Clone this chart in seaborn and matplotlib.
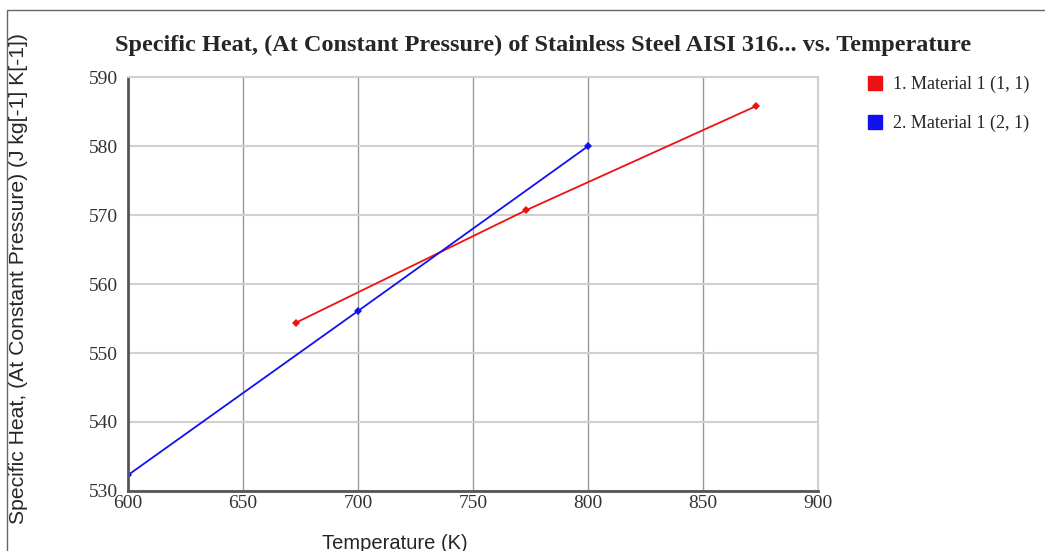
import numpy as np
import pandas as pd
import matplotlib
matplotlib.use("Agg")
import matplotlib.pyplot as plt
import seaborn as sns
from matplotlib.patches import Rectangle
from matplotlib.lines import Line2D

# ── data ──────────────────────────────────────────────────────────────────────
series_names = ["1. Material 1 (1, 1)", "2. Material 1 (2, 1)"]
temp_m1 = [673, 773, 873]
cp_m1   = [554.4, 570.7, 585.8]
temp_m2 = [600, 700, 800]
cp_m2   = [532.3, 556.1, 580.0]
colors  = ["#ee1111", "#1111ee"]

df = pd.concat([
    pd.DataFrame({"T": temp_m1, "cp": cp_m1, "series": series_names[0]}),
    pd.DataFrame({"T": temp_m2, "cp": cp_m2, "series": series_names[1]}),
])

sns.set_style("white")
serif = ["Liberation Serif", "DejaVu Serif"]
sans = ["Liberation Sans", "DejaVu Sans"]

fig = plt.figure(figsize=(10.45, 5.51), dpi=100)
ax = fig.add_axes([0.1225, 0.109, 0.6605, 0.751])

sns.lineplot(data=df, x="T", y="cp", hue="series", palette=colors,
             marker="D", markersize=4, markeredgewidth=0, linewidth=1.3,
             legend=False, ax=ax, sort=False)

ax.set_xlim(600, 900)
ax.set_ylim(530, 590)
ax.set_xticks(np.arange(600, 901, 50))
ax.set_yticks(np.arange(530, 591, 10))
ax.grid(axis="x", color="#999999", linewidth=1)
ax.grid(axis="y", color="#d0d0d0", linewidth=1.5)
ax.set_axisbelow(True)
for side in ["left", "bottom"]:
    ax.spines[side].set_color("#555555")
    ax.spines[side].set_linewidth(2)
for side in ["top", "right"]:
    ax.spines[side].set_color("#d0d0d0")
    ax.spines[side].set_linewidth(1.5)
ax.tick_params(axis="y", length=6, width=1, color="#555555", pad=1)
ax.tick_params(axis="x", length=0, pad=3)
for lab in ax.get_xticklabels() + ax.get_yticklabels():
    lab.set_fontfamily(serif)
    lab.set_fontsize(14)
    lab.set_color("#333333")

ax.set_xlabel("Temperature (K)", fontfamily=sans, fontsize=14.5)
ax.xaxis.set_label_coords(0.387, -0.126)
ax.set_ylabel("Specific Heat, (At Constant Pressure) (J kg[-1] K[-1])",
              fontfamily=sans, fontsize=15.2)
ax.yaxis.set_label_coords(-0.159, 0.514)
ax.yaxis.label.set_va("center")
ax.xaxis.label.set_va("center")

fig.text(0.520, 0.918, "Specific Heat, (At Constant Pressure) of Stainless Steel AISI 316... vs. Temperature",
         ha="center", va="center", fontfamily=serif, fontweight="bold", fontsize=17.5)

handles = [Line2D([], [], marker="s", linestyle="none", markersize=10,
                  markerfacecolor=c, markeredgecolor=c) for c in colors]
leg = fig.legend(handles, series_names, loc="upper left",
                 bbox_to_anchor=(0.822, 0.875), frameon=False,
                 prop={"family": serif, "size": 13}, handletextpad=0.5,
                 labelspacing=1.2, handlelength=1.0, borderaxespad=0)

fig.patches.append(Rectangle((0.0067, -0.01), 1.0, 0.992, transform=fig.transFigure,
                             fill=False, edgecolor="#666666", linewidth=1))

fig.savefig("out.png", dpi=100)
